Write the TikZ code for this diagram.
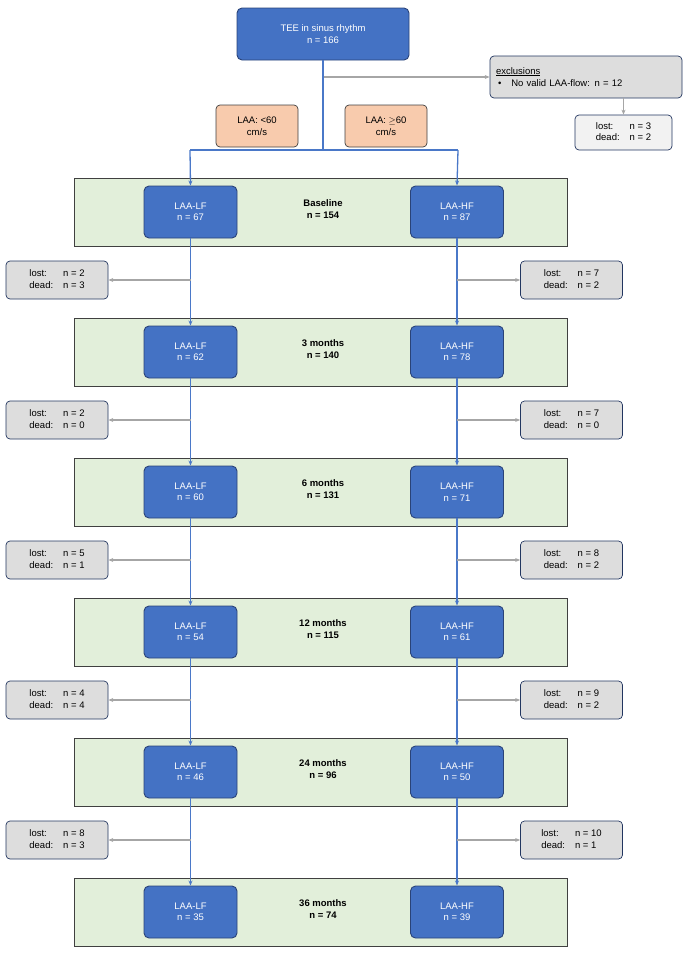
\documentclass[tikz,border=0pt]{standalone}
\usepackage{fontspec}
\setmainfont{Liberation Sans}
\usetikzlibrary{arrows.meta}
\definecolor{bfill}{HTML}{4472C4}
\definecolor{bdraw}{HTML}{2A4378}
\definecolor{gfill}{HTML}{E2EFDA}
\definecolor{ofill}{HTML}{F8CBAD}
\definecolor{grfill}{HTML}{DDDDDD}
\definecolor{blin}{HTML}{4A78C8}
\definecolor{glin}{HTML}{A6A6A6}
\begin{document}
\begin{tikzpicture}[x=1pt,y=-1pt,font=\fontsize{9.5}{11.5}\selectfont,
 blue/.style={draw=bdraw,fill=bfill,rounded corners=5pt,text=white,align=center,line width=0.9pt,inner sep=0pt},
 band/.style={draw=black!75,fill=gfill,line width=0.6pt,inner sep=0pt},
 orng/.style={draw=black!75,fill=ofill,rounded corners=4pt,align=center,line width=0.7pt,inner sep=0pt,minimum width=82pt,minimum height=42pt},
 grey/.style={draw=bdraw!80!black,fill=grfill,rounded corners=4pt,line width=0.7pt,inner sep=0pt,minimum width=102pt,minimum height=38pt},
 bl/.style={blin,line width=1.3pt},
 ba/.style={blin,line width=1.3pt,-{Stealth[length=5pt,width=4pt]}},
 ga/.style={glin,line width=1.2pt,-{Stealth[length=5pt,width=4pt]}}]
\useasboundingbox (0,0) rectangle (685,953);
\node[blue,minimum width=172pt,minimum height=52pt] (top) at (323,34) {TEE in sinus rhythm\\n = 166};
\node[grey,minimum width=192pt,minimum height=42pt,align=left,text width=180pt] (exc) at (586,77) {\underline{exclusions}\\[1pt]\hspace*{2pt}•\hspace{10pt}No valid LAA-flow: n = 12};
\node[grey,minimum width=97pt,minimum height=35pt,fill=gray!10] (excl) at (623.5,132.5) {\begin{tabular}{@{}l@{\hspace{10pt}}l@{}}lost:&n = 3\\dead:&n = 2\end{tabular}};
\node[orng] (o1) at (257,126) {LAA: <60\\cm/s};
\node[orng] (o2) at (386,126) {LAA: $\geq$60\\cm/s};
\coordinate (exj) at (323,77);
\coordinate (sp) at (323,150);
\coordinate (spl) at (190,150);
\coordinate (spr) at (458,150);
\draw[ga] (exj) -- (exc.west);
\draw[ga] (exc.south -| excl) -- (excl.north);
\draw[bl] (top.south) -- (sp);
\draw[bl] (spl) -- (spr);
\foreach \i/\lab/\tot/\lf/\hf in {0/Baseline/154/67/87,1/3 months/140/62/78,2/6 months/131/60/71,3/12 months/115/54/61,4/24 months/96/46/50,5/36 months/74/35/39}{
  \pgfmathsetmacro{\yy}{212+140*\i}
  \node[band,minimum width=493pt,minimum height=68pt] (band\i) at (320.5,\yy) {};
  \node[blue,minimum width=93pt,minimum height=52pt] (lf\i) at (190.5,\yy) {LAA-LF\\n = \lf};
  \node[blue,minimum width=93pt,minimum height=52pt] (hf\i) at (457,\yy) {LAA-HF\\n = \hf};
  \node[align=center,font=\fontsize{9.5}{11.5}\selectfont\bfseries] (t\i) at (323,\yy-3) {\lab\\n = \tot};
}
\draw[ba] (spl) -- (lf0.north);
\draw[ba] (spr) -- (hf0.north);
\foreach \i/\a/\b/\c/\d in {0/2/3/7/2,1/2/0/7/0,2/5/1/8/2,3/4/4/9/2,4/8/3/10/1}{
  \pgfmathsetmacro{\yy}{280+140*\i}
  \pgfmathtruncatemacro{\j}{\i+1}
  \node[grey] (ll\i) at (57,\yy) {\begin{tabular}{@{}l@{\hspace{10pt}}l@{}}lost:&n = \a\\dead:&n = \b\end{tabular}};
  \node[grey] (rl\i) at (571.5,\yy) {\begin{tabular}{@{}l@{\hspace{10pt}}l@{}}lost:&n = \c\\dead:&n = \d\end{tabular}};
  \draw[ba] (lf\i.south) -- (lf\j.north);
  \draw[ba] (hf\i.south) -- (hf\j.north);
  \draw[ga] (lf\i.south |- ll\i) -- (ll\i.east);
  \draw[ga] (hf\i.south |- rl\i) -- (rl\i.west);
}
\end{tikzpicture}
\end{document}
